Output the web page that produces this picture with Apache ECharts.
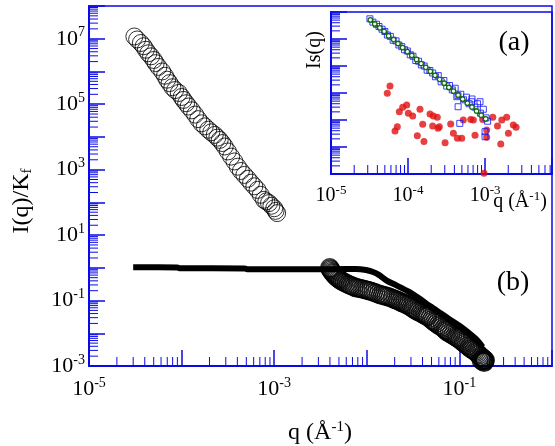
<!DOCTYPE html>
<html><head><meta charset="utf-8">
<script src="https://cdn.jsdelivr.net/npm/echarts@6/dist/echarts.min.js"></script>
<style>html,body{margin:0;padding:0;background:#fff}#c{width:555px;height:446px}</style>
</head><body><div id="c"></div>
<script>
// ---- data (q in 1/Å, intensity) ----
const topCircles = [[3.09e-5,1.17e7],[3.31e-5,9.5e6],[3.63e-5,7.4e6],[3.89e-5,5.9e6],[4.11e-5,4.6e6],[4.37e-5,3.6e6],[4.68e-5,2.9e6],[5.01e-5,2.24e6],[5.25e-5,1.8e6],[5.62e-5,1.38e6],[6.17e-5,1.0e6],[6.61e-5,7.4e5],[6.98e-5,5.6e5],[7.41e-5,4.4e5],[7.94e-5,3.3e5],[8.51e-5,2.7e5],[9.33e-5,2.2e5],[1.0e-4,1.66e5],[1.05e-4,1.35e5],[1.12e-4,1.07e5],[1.19e-4,8.5e4],[1.29e-4,6.5e4],[1.40e-4,4.8e4],[1.51e-4,3.5e4],[1.64e-4,2.6e4],[1.78e-4,2.1e4],[1.94e-4,1.66e4],[2.09e-4,1.38e4],[2.28e-4,1.15e4],[2.43e-4,9.5e3],[2.58e-4,8.1e3],[2.75e-4,6.5e3],[2.92e-4,5.1e3],[3.16e-4,3.6e3],[3.43e-4,2.5e3],[3.72e-4,1.78e3],[4.04e-4,1.23e3],[4.37e-4,910],[4.76e-4,690],[5.19e-4,525],[5.62e-4,400],[6.1e-4,310],[6.61e-4,240],[7.16e-4,170],[7.76e-4,120],[8.22e-4,107],[8.79e-4,95],[9.33e-4,79],[1.0e-3,66],[1.035e-3,55],[1.076e-3,47]];
const bandCircles = [[3.98e-3,1.0],[4.03e-3,0.92],[4.1e-3,0.85],[4.18e-3,0.78],[4.27e-3,0.72],[4.36e-3,0.67],[4.45e-3,0.62],[4.56e-3,0.58],[4.68e-3,0.54],[4.8e-3,0.5],[4.95e-3,0.47],[5.1e-3,0.44],[5.25e-3,0.41],[5.45e-3,0.385],[5.7e-3,0.36],[6.0e-3,0.335],[6.3e-3,0.31],[6.6e-3,0.295],[6.9e-3,0.28],[7.25e-3,0.265],[7.6e-3,0.25],[8.0e-3,0.243],[8.4e-3,0.235],[8.85e-3,0.227],[9.3e-3,0.22],[9.75e-3,0.212],[1.02e-2,0.205],[1.07e-2,0.197],[1.12e-2,0.19],[1.18e-2,0.18],[1.25e-2,0.17],[1.33e-2,0.16],[1.41e-2,0.15],[1.48e-2,0.145],[1.55e-2,0.14],[1.62e-2,0.135],[1.7e-2,0.13],[1.78e-2,0.124],[1.87e-2,0.118],[1.95e-2,0.112],[2.04e-2,0.107],[2.12e-2,0.102],[2.2e-2,0.097],[2.3e-2,0.092],[2.4e-2,0.087],[2.5e-2,0.083],[2.6e-2,0.079],[2.7e-2,0.075],[2.8e-2,0.071],[2.92e-2,0.066],[3.05e-2,0.062],[3.17e-2,0.057],[3.3e-2,0.053],[3.45e-2,0.049],[3.6e-2,0.046],[3.8e-2,0.043],[3.98e-2,0.04],[4.15e-2,0.037],[4.3e-2,0.035],[4.45e-2,0.0335],[4.57e-2,0.032],[4.8e-2,0.029],[5.0e-2,0.026],[5.2e-2,0.024],[5.4e-2,0.022],[5.65e-2,0.02],[5.9e-2,0.018],[6.2e-2,0.0168],[6.5e-2,0.0155],[6.75e-2,0.0142],[7.0e-2,0.013],[7.2e-2,0.012],[7.4e-2,0.011],[7.75e-2,0.0102],[8.1e-2,0.0095],[8.5e-2,0.0088],[8.9e-2,0.0082],[9.2e-2,0.0076],[9.5e-2,0.0072],[9.85e-2,0.0068],[0.102,0.0063],[0.106,0.0058],[0.11,0.0053],[0.114,0.0049],[0.118,0.0045],[0.123,0.0041],[0.128,0.0037],[0.133,0.0034],[0.138,0.0032],[0.143,0.003],[0.148,0.0028],[0.153,0.0026],[0.158,0.0024],[0.163,0.0022],[0.168,0.002],[0.172,0.0019],[0.176,0.00178],[0.18,0.0017],[0.183,0.0016],[0.187,0.00155],[0.19,0.0015],[0.188,0.0014],[0.185,0.0013],[0.178,0.0014],[0.172,0.0015]];
const bandLine = [[3.0e-5,1.04],[9.0e-5,1.03],[9.5e-5,0.97],[4.8e-4,0.96],[5.1e-4,0.91],[3.0e-3,0.90],[6.0e-3,0.92],[7.6e-3,0.92],[9.8e-3,0.86],[1.15e-2,0.76],[1.35e-2,0.61],[1.66e-2,0.40],[2.04e-2,0.30],[2.8e-2,0.19],[3.7e-2,0.115],[4.8e-2,0.068],[6.1e-2,0.043],[7.8e-2,0.027],[0.1,0.017],[0.128,0.0100],[0.155,0.0062],[0.178,0.0038]];
const insetSquares = [[3.2e-5,5.6e5],[3.5e-5,4.2e5],[3.9e-5,3.5e5],[4.2e-5,2.9e5],[4.6e-5,2.3e5],[5.0e-5,1.9e5],[5.4e-5,1.4e5],[5.9e-5,1.25e5],[6.4e-5,9.0e4],[7.0e-5,8.5e4],[7.6e-5,6.0e4],[8.3e-5,5.2e4],[9.0e-5,4.0e4],[9.8e-5,3.6e4],[1.07e-4,2.6e4],[1.16e-4,2.3e4],[1.26e-4,1.6e4],[1.37e-4,1.5e4],[1.49e-4,1.1e4],[1.62e-4,1.0e4],[1.77e-4,7.0e3],[1.92e-4,6.8e3],[2.09e-4,5.5e3],[2.27e-4,4.0e3],[2.47e-4,4.4e3],[2.69e-4,2.6e3],[2.92e-4,2.9e3],[3.18e-4,1.8e3],[3.46e-4,1.9e3],[3.76e-4,1.3e3],[4.09e-4,1.5e3],[4.45e-4,800],[4.84e-4,900],[5.26e-4,560],[5.72e-4,700],[6.22e-4,400],[6.77e-4,600],[7.36e-4,300],[8.0e-4,400],[8.7e-4,180],[9.5e-4,250],[1.03e-3,120],[1.08e-3,90],[8.6e-4,475],[6.7e-4,475],[4.7e-4,75],[1.0e-3,37],[1.0e-3,24],[4.47e-4,310],[4.3e-4,730]];
const insetFit = [[3.24e-5,5.1e5],[3.7e-5,3.6e5],[4.3e-5,2.6e5],[4.9e-5,1.9e5],[5.6e-5,1.3e5],[6.5e-5,9.5e4],[7.4e-5,6.8e4],[8.5e-5,4.8e4],[9.8e-5,3.4e4],[1.12e-4,2.45e4],[1.29e-4,1.74e4],[1.48e-4,1.23e4],[1.70e-4,8.9e3],[1.95e-4,6.3e3],[2.24e-4,4.5e3],[2.57e-4,3.2e3],[2.95e-4,2.3e3],[3.39e-4,1.6e3],[3.89e-4,1.17e3],[4.47e-4,830],[5.13e-4,590],[5.89e-4,420],[6.76e-4,300],[7.76e-4,215],[8.91e-4,150],[1.02e-3,110]];
const insetRed = [[5.83e-5,1820],[5.38e-5,977],[7.71e-5,204],[8.53e-5,295],[9.62e-5,363],[1.01e-4,178],[1.15e-4,141],[1.43e-4,251],[7.26e-5,56],[6.78e-5,39],[1.32e-4,26],[1.61e-4,16],[1.55e-4,69],[1.93e-4,166],[2.13e-4,141],[2.40e-4,126],[2.09e-4,60],[2.55e-4,56],[3.03e-4,14.5],[3.58e-4,71],[3.88e-4,32],[4.38e-4,21],[4.98e-4,21],[5.22e-4,100],[6.52e-4,105],[7.41e-4,27.5],[7.05e-4,100],[9.33e-4,105],[1.05e-3,43],[1.05e-3,23],[1.26e-3,126],[1.65e-3,100],[1.91e-3,126],[1.45e-3,60],[2.01e-3,32],[2.33e-3,65],[2.53e-3,54],[1.60e-3,13],[9.7e-4,1.07],[2.45e-4,50]];

// ---- tick labels (exponents of 10 that carry a label) ----
const mainXLabelExps = [-5,-3,-1];
const mainYLabelExps = [7,5,3,1,-1,-3];
const insetXLabelExps = [-5,-4,-3];

const BLUE = '#0a0ae6';
const F = 'Liberation Serif';

function minorValues(e0, e1, maxV) {
  const out = [];
  for (let e = e0; e <= e1; e++) for (let k = 2; k <= 9; k++) {
    const v = k * Math.pow(10, e);
    if (maxV == null || v <= maxV) out.push(v);
  }
  return out;
}
function tickSeries(xi, yi, vals, dir, fixed, len) {
  return {
    type: 'custom', xAxisIndex: xi, yAxisIndex: yi, silent: true, z: 3,
    data: vals.map(v => dir === 'x' ? [v, fixed] : [fixed, v]),
    renderItem: function (params, api) {
      const p = api.coord([api.value(0), api.value(1)]);
      const q = dir === 'x' ? [p[0], p[1] - len] : [p[0] + len, p[1]];
      return {type: 'line', shape: {x1: p[0], y1: p[1], x2: q[0], y2: q[1]},
        style: {stroke: BLUE, lineWidth: 1}};
    }
  };
}
function labelFmt(exps) {
  return function (v) {
    const e = Math.round(Math.log10(v));
    return exps.indexOf(e) >= 0 ? '{b|10}{s|' + e + '}' : '';
  };
}
const richMain = {b: {fontSize: 22, fontFamily: F, color: '#000'},
  s: {fontSize: 14, fontFamily: F, color: '#000', padding: [0, 0, 12, 0]}};
const richInset = {b: {fontSize: 20, fontFamily: F, color: '#000'},
  s: {fontSize: 13, fontFamily: F, color: '#000', padding: [0, 0, 11, 0]}};

function logAxis(grid, min, max, fmt, rich, margin) {
  return {
    type: 'log', logBase: 10, gridIndex: grid, min: min, max: max, interval: 1, z: 3,
    axisLine: {show: true, lineStyle: {color: BLUE, width: 2}},
    axisTick: {show: true, inside: true, length: 16, lineStyle: {color: BLUE, width: 1.5}},
    axisLabel: fmt ? {show: true, formatter: fmt, rich: rich, margin: margin} : {show: false},
    splitLine: {show: false}, minorTick: {show: false}
  };
}

const chart = echarts.init(document.getElementById('c'), null, {renderer: 'canvas'});
chart.setOption({
  animation: false,
  backgroundColor: '#fff',
  grid: [
    {left: 89, top: 6, width: 470, height: 360, show: true, borderColor: BLUE, borderWidth: 1.5, backgroundColor: 'transparent'},
    {left: 331, top: 12, width: 221, height: 162, show: true, borderColor: BLUE, borderWidth: 1.5, backgroundColor: 'transparent'}
  ],
  xAxis: [
    logAxis(0, 1e-5, 1, labelFmt(mainXLabelExps), richMain, 10),
    logAxis(1, 1e-5, 7.4e-3, labelFmt(insetXLabelExps), richInset, 10)
  ],
  yAxis: [
    logAxis(0, 1e-3, 1e8, labelFmt(mainYLabelExps), richMain, 4),
    logAxis(1, 1, 1e6, null, null, 0)
  ],
  graphic: [
    {type: 'text', x: 22, y: 201, rotation: Math.PI / 2, z: 100,
      style: {text: '{m|I(q)/K}{u|f}', align: 'center', verticalAlign: 'middle',
        rich: {m: {fontSize: 24, fontFamily: F, fill: '#000'}, u: {fontSize: 15, fontFamily: F, fill: '#000', padding: [10, 0, 0, 0]}}}},
    {type: 'text', x: 320, y: 433, z: 100,
      style: {text: '{m|q (Å}{s|-1}{m|)}', align: 'center', verticalAlign: 'middle',
        rich: {m: {fontSize: 24, fontFamily: F, fill: '#000'}, s: {fontSize: 15, fontFamily: F, fill: '#000', padding: [0, 0, 12, 0]}}}},
    {type: 'text', x: 520, y: 202, z: 100,
      style: {text: '{m|q (Å}{s|-1}{m|)}', align: 'center', verticalAlign: 'middle',
        rich: {m: {fontSize: 20, fontFamily: F, fill: '#000'}, s: {fontSize: 13, fontFamily: F, fill: '#000', padding: [0, 0, 10, 0]}}}},
    {type: 'text', x: 315, y: 50, rotation: Math.PI / 2, z: 100,
      style: {text: 'Is(q)', align: 'center', verticalAlign: 'middle', fontSize: 20, fontFamily: F, fill: '#000'}},
    {type: 'text', x: 514, y: 43, z: 100,
      style: {text: '(a)', align: 'center', verticalAlign: 'middle', fontSize: 28, fontFamily: F, fill: '#000'}},
    {type: 'text', x: 513, y: 283, z: 100,
      style: {text: '(b)', align: 'center', verticalAlign: 'middle', fontSize: 28, fontFamily: F, fill: '#000'}}
  ],
  series: [
    tickSeries(0, 0, minorValues(-5, -1), 'x', 1e-3, 9),
    tickSeries(0, 0, minorValues(-3, 7), 'y', 1e-5, 9),
    tickSeries(1, 1, minorValues(-5, -3, 7.4e-3), 'x', 1, 9),
    tickSeries(1, 1, minorValues(0, 5), 'y', 1e-5, 9),
    {type: 'scatter', xAxisIndex: 0, yAxisIndex: 0, data: topCircles, symbol: 'circle', symbolSize: 17,
      itemStyle: {color: 'rgba(255,255,255,0)', borderColor: '#000', borderWidth: 1}, z: 4},
    {type: 'scatter', xAxisIndex: 0, yAxisIndex: 0, data: bandCircles, symbol: 'circle', symbolSize: 18,
      itemStyle: {color: 'rgba(255,255,255,0)', borderColor: '#000', borderWidth: 1.4}, z: 4},
    {type: 'line', xAxisIndex: 0, yAxisIndex: 0, data: bandLine, showSymbol: false, smooth: 0.3,
      lineStyle: {color: '#000', width: 6}, z: 5},
    {type: 'scatter', xAxisIndex: 1, yAxisIndex: 1, data: insetRed, symbol: 'circle', symbolSize: 7,
      itemStyle: {color: '#e01010'}, z: 6},
    {type: 'scatter', xAxisIndex: 1, yAxisIndex: 1, data: insetSquares, symbol: 'rect', symbolSize: 6,
      itemStyle: {color: 'rgba(255,255,255,0)', borderColor: '#1010ff', borderWidth: 1}, z: 6},
    {type: 'line', xAxisIndex: 1, yAxisIndex: 1, data: insetFit, symbol: 'circle', symbolSize: 4.5, showSymbol: true,
      lineStyle: {color: '#136b13', width: 2}, itemStyle: {color: '#fff', borderColor: '#136b13', borderWidth: 1.3}, z: 7}
  ]
});
</script></body></html>
